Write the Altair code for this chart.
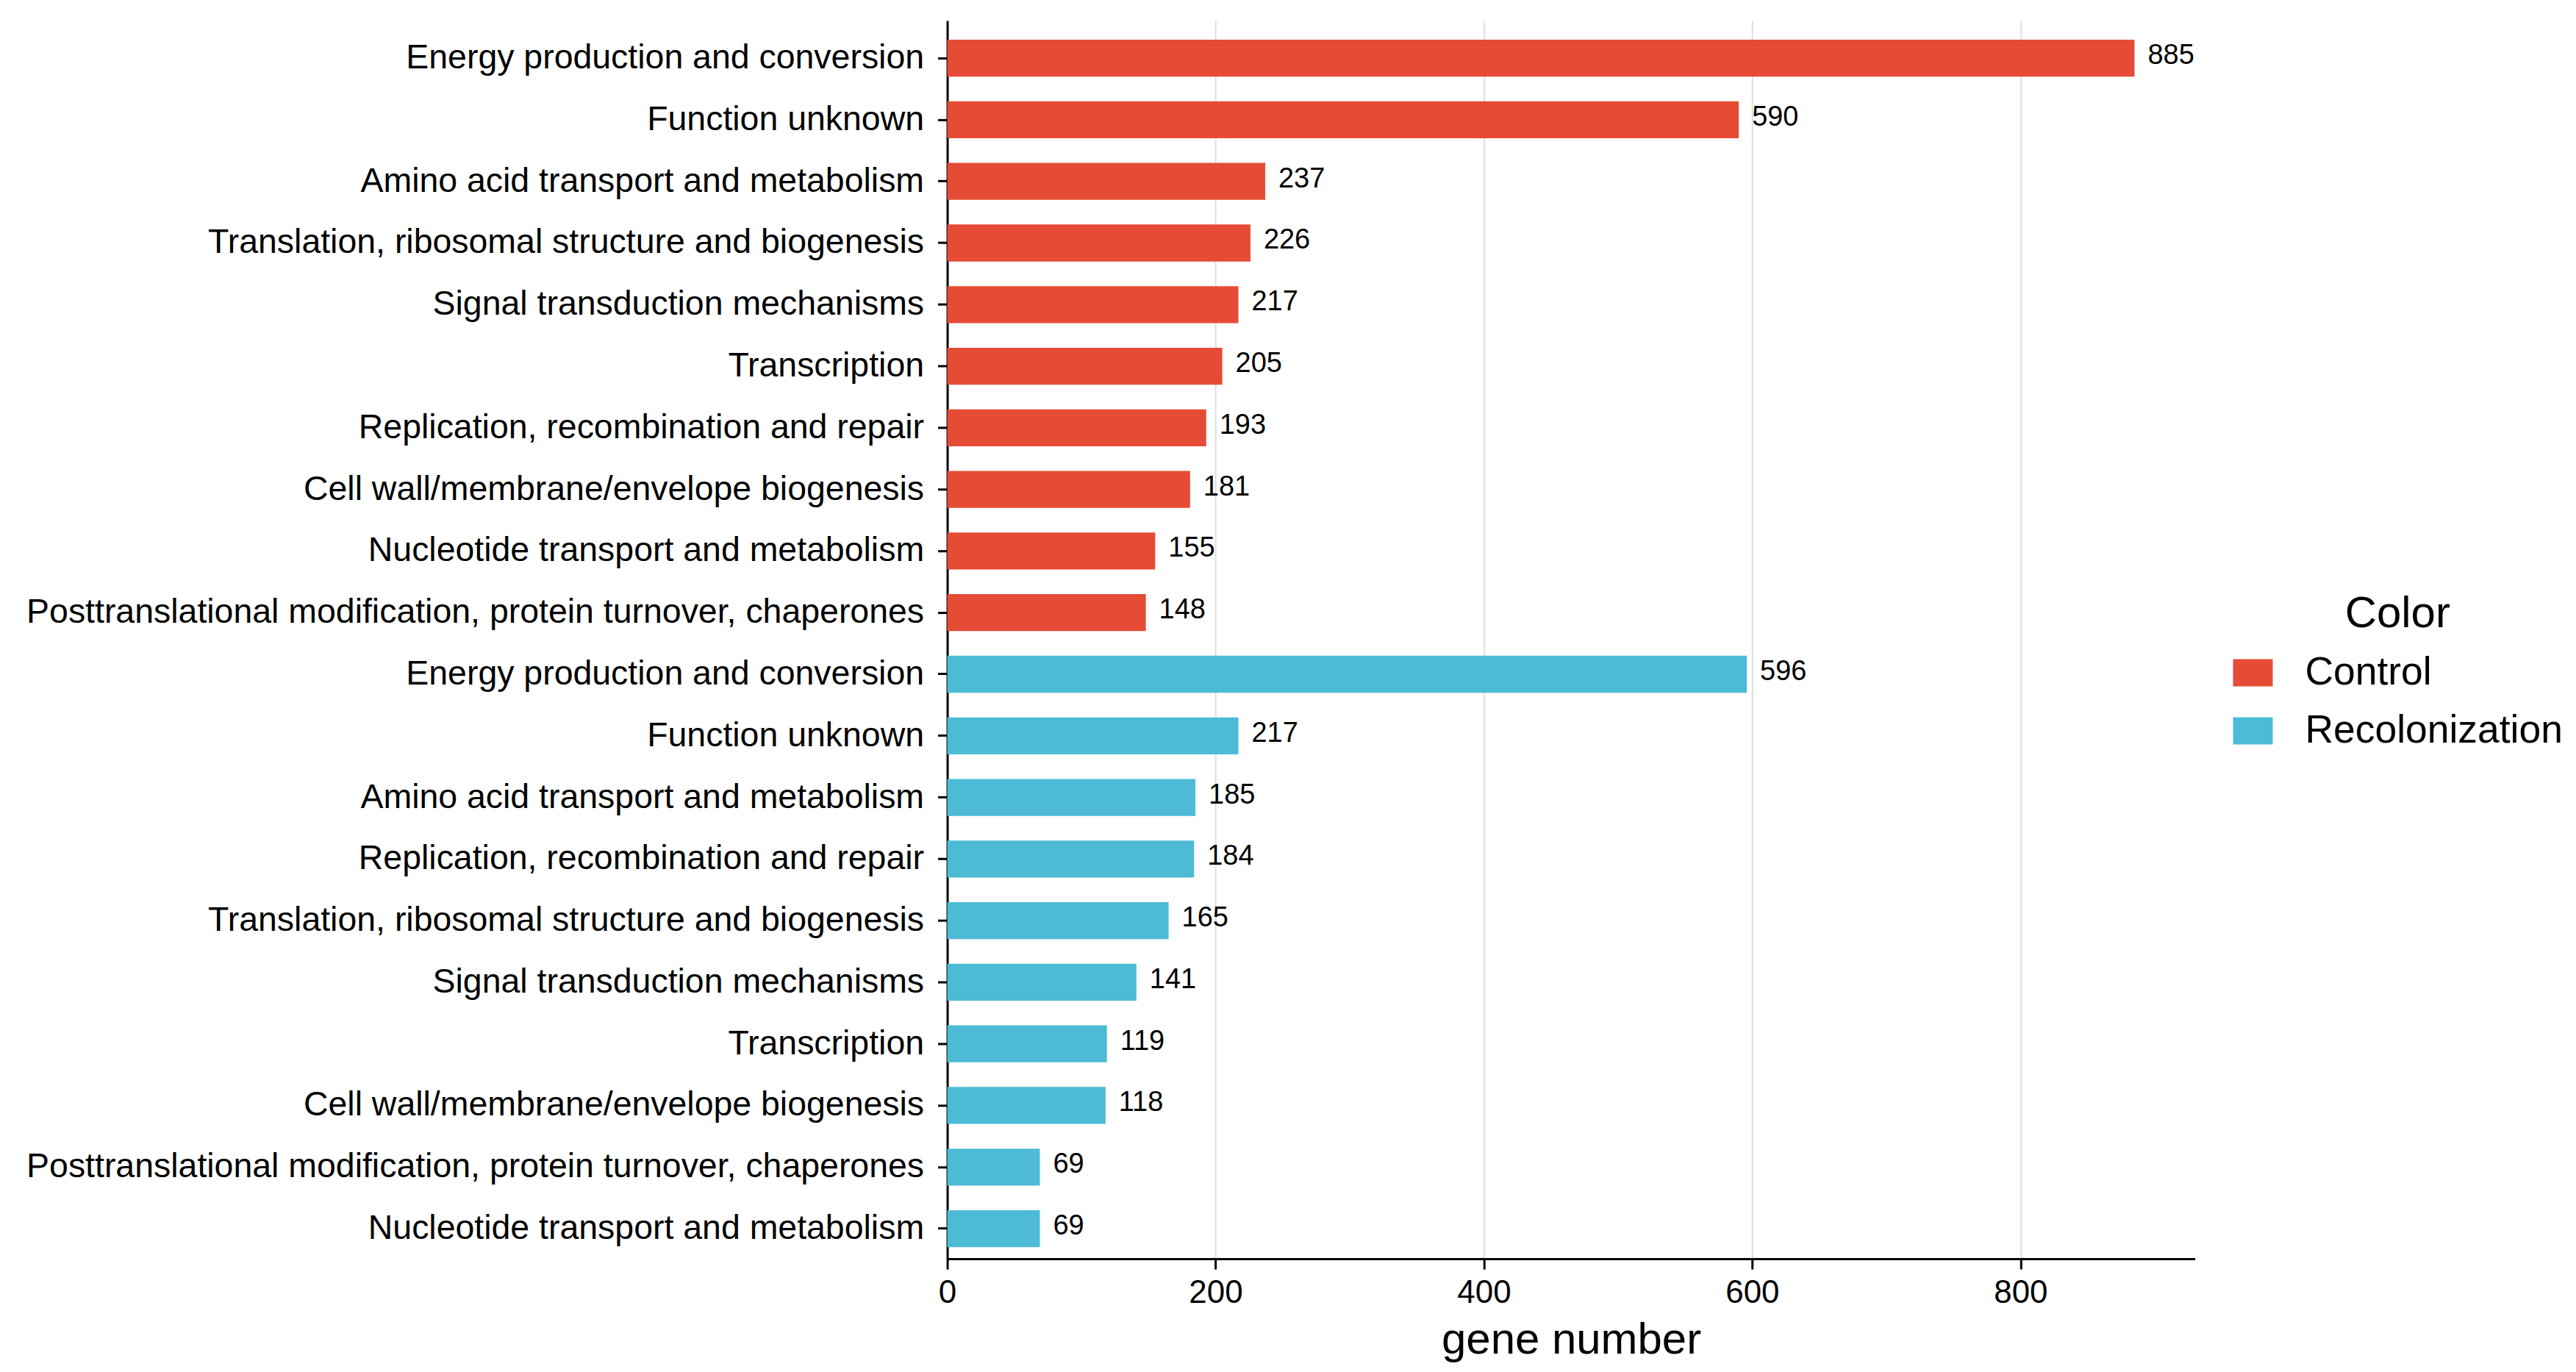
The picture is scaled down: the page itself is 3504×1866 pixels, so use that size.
import altair as alt
import pandas as pd

control_terms = [
    "Energy production and conversion",
    "Function unknown",
    "Amino acid transport and metabolism",
    "Translation, ribosomal structure and biogenesis",
    "Signal transduction mechanisms",
    "Transcription",
    "Replication, recombination and repair",
    "Cell wall/membrane/envelope biogenesis",
    "Nucleotide transport and metabolism",
    "Posttranslational modification, protein turnover, chaperones",
]
control_counts = [885, 590, 237, 226, 217, 205, 193, 181, 155, 148]

recol_terms = [
    "Energy production and conversion",
    "Function unknown",
    "Amino acid transport and metabolism",
    "Replication, recombination and repair",
    "Translation, ribosomal structure and biogenesis",
    "Signal transduction mechanisms",
    "Transcription",
    "Cell wall/membrane/envelope biogenesis",
    "Posttranslational modification, protein turnover, chaperones",
    "Nucleotide transport and metabolism",
]
recol_counts = [596, 217, 185, 184, 165, 141, 119, 118, 69, 69]

groups = ["Control", "Recolonization"]
group_colors = ["#E64B35", "#4DBBD5"]
x_ticks = [0, 200, 400, 600, 800]

rows = []
for term, n in zip(control_terms, control_counts):
    rows.append({"key": "Control|" + term, "group": "Control", "count": n})
for term, n in zip(recol_terms, recol_counts):
    rows.append({"key": "Recolonization|" + term, "group": "Recolonization", "count": n})
df = pd.DataFrame(rows)
order = df["key"].tolist()

FONT = "Liberation Sans"

y = alt.Y(
    "key:N",
    sort=order,
    title=None,
    scale=alt.Scale(paddingInner=0.4, paddingOuter=0.25, align=0.62),
    axis=alt.Axis(
        labelExpr="split(datum.label, '|')[1]",
        labelFontSize=46.5,
        labelColor="black",
        labelLimit=3000,
        labelPadding=19,
        tickSize=13,
        tickWidth=3,
        tickColor="black",
        domainColor="black",
        domainWidth=3,
        grid=False,
    ),
)

x = alt.X(
    "count:Q",
    title="gene number",
    scale=alt.Scale(domain=[0, 930], nice=False, zero=True),
    axis=alt.Axis(
        values=x_ticks,
        labelFontSize=44,
        labelColor="black",
        labelPadding=10,
        labelFlush=False,
        tickSize=14,
        tickWidth=3,
        tickColor="black",
        domainColor="black",
        domainWidth=3,
        grid=True,
        gridColor="#DEDEDE",
        gridWidth=2,
        titleFontSize=60,
        titleFontWeight="normal",
        titleColor="black",
        titlePadding=14,
    ),
)

color = alt.Color(
    "group:N",
    scale=alt.Scale(domain=groups, range=group_colors),
    legend=alt.Legend(
        title="Color",
        orient="none",
        legendX=1751,
        legendY=779,
        titleFontSize=60,
        titleFontWeight="normal",
        titleColor="black",
        titleAnchor="middle",
        titlePadding=22,
        labelFontSize=53.5,
        labelColor="black",
        labelLimit=1000,
        labelOffset=44,
        symbolType="M-1,-0.685H1V0.685H-1Z",
        symbolSize=2916,
        symbolStrokeWidth=0,
        symbolOpacity=1,
        rowPadding=25,
    ),
)

bars = alt.Chart(df).mark_bar(opacity=1).encode(x=x, y=y, color=color)

labels = alt.Chart(df).mark_text(
    align="left", baseline="middle", dx=18, dy=-3, fontSize=38, color="black"
).encode(x="count:Q", y=alt.Y("key:N", sort=order), text="count:Q")

chart = (
    alt.layer(bars, labels)
    .properties(
        width=1699,
        height=1686,
        padding={"left": 27, "top": 19, "right": 10, "bottom": 10},
        background="white",
    )
    .configure(font=FONT)
    .configure_view(stroke=None)
)

chart.save("out.html", embed_options={"renderer": "svg", "actions": False})
